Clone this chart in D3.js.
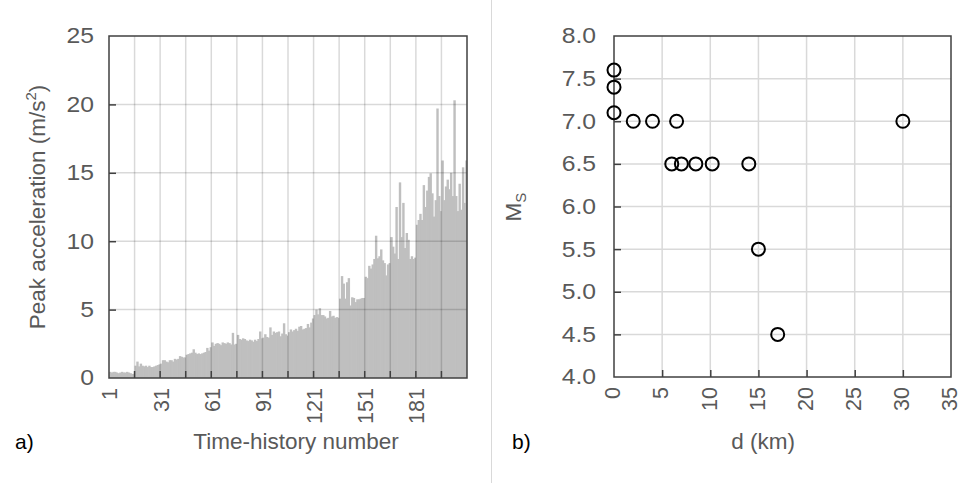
<!DOCTYPE html>
<html><head><meta charset="utf-8">
<script src="https://cdn.jsdelivr.net/npm/d3@7"></script>
<style>
html,body{margin:0;padding:0;background:#fff;}
svg{display:block;font-family:"Liberation Sans",Arial,sans-serif;}
.tick text{fill:#595959;font-size:21.5px;}
</style></head>
<body><svg id="chart" width="962" height="483"></svg>
<script>
// ---- Data (panel a): peak acceleration per time-history (m/s^2) ----
const peakAcc = [
0.45,0.4,0.45,0.45,0.4,0.35,0.4,0.45,0.4,0.4,0.45,0.4,0.35,0.3,0.3,
0.9,1.2,0.85,1.05,0.9,0.85,0.9,0.8,0.9,0.8,0.8,0.85,0.9,0.95,1.0,
1.05,1.3,1.3,1.2,1.15,1.3,1.3,1.2,1.4,1.35,1.4,1.6,1.55,1.5,1.5,
1.7,1.75,1.8,1.85,2.1,1.85,1.75,1.8,1.75,1.8,1.85,1.9,2.2,2.0,2.25,
2.6,2.35,2.5,2.55,2.5,2.4,2.6,2.55,2.5,2.6,2.55,2.45,3.3,2.45,2.5,
3.15,2.85,2.8,2.9,2.85,2.75,2.7,2.8,2.75,2.65,2.8,2.7,2.85,3.4,2.9,
2.95,3.2,3.0,2.95,3.7,3.15,3.4,3.3,3.35,3.4,3.05,3.25,4.0,3.2,3.1,
3.35,3.55,3.4,3.5,3.6,3.45,3.75,3.8,3.55,3.6,3.65,3.95,3.7,4.05,4.35,
4.6,5.0,4.65,5.1,4.6,4.6,4.5,4.35,4.4,4.9,4.5,4.55,4.4,4.45,4.4,
5.8,7.45,6.9,5.8,7.0,7.3,5.3,5.9,5.85,5.55,5.75,5.75,5.8,5.85,5.85,
7.4,7.3,8.2,8.0,8.3,8.7,10.4,8.75,8.9,9.4,8.6,8.4,7.5,8.3,8.4,
10.3,9.6,9.1,12.5,8.7,14.3,10.3,12.8,9.5,10.6,10.1,8.7,8.9,8.7,8.8,
11.2,11.55,12.0,11.55,14.1,12.5,13.7,14.7,14.96,13.5,11.8,13.0,19.7,13.3,12.2,
15.9,13.0,14.0,14.5,13.8,15.0,13.3,20.3,13.3,12.2,14.2,12.3,15.4,12.8,15.9
];
const historyIds = peakAcc.map((_, i) => i + 1);
const historyLabels = [1, 31, 61, 91, 121, 151, 181];
const accTicks = [0, 5, 10, 15, 20, 25];

// ---- Data (panel b): magnitude vs distance ----
const distKm = [0, 0, 0, 2, 4, 6.5, 30, 6, 7, 8.5, 10.2, 14, 15, 17];
const magMs  = [7.6, 7.4, 7.1, 7.0, 7.0, 7.0, 7.0, 6.5, 6.5, 6.5, 6.5, 6.5, 5.5, 4.5];
const distTicks = [0, 5, 10, 15, 20, 25, 30, 35];
const magTicks = [4.0, 4.5, 5.0, 5.5, 6.0, 6.5, 7.0, 7.5, 8.0];

const svg = d3.select("#chart");
const axisCol = "#404040", textCol = "#595959";
const stretch = 1.15;

// separator
svg.append("line").attr("x1", 491.5).attr("x2", 491.5).attr("y1", 0).attr("y2", 483)
  .attr("stroke", "#d9d9d9").attr("stroke-width", 1);

function styleLeftAxis(g, pad) {
  g.select(".domain").remove();
  g.selectAll(".tick line").attr("stroke", axisCol).attr("stroke-width", 1.5);
  g.selectAll(".tick text").attr("x", 0).attr("transform", `translate(${-pad},0) scale(${stretch},1)`);
}
function styleRotatedLabels(g, dy) {
  g.selectAll(".tick text").attr("transform", "rotate(-90)").attr("text-anchor", "end")
    .attr("x", -10).attr("y", 0).attr("dy", dy);
}

// ================= Panel a =================
const A = {x0: 109, x1: 467, y0: 36, y1: 378};
const xa = d3.scaleBand().domain(historyIds).range([A.x0, A.x1]).padding(0);
const ya = d3.scaleLinear().domain([0, 25]).range([A.y1, A.y0]);
const ga = svg.append("g");

// bars (slight overlap to avoid anti-aliasing seams)
ga.append("g").selectAll("rect").data(peakAcc).join("rect")
  .attr("x", (d, i) => xa(historyIds[i]))
  .attr("width", (d, i) => i === peakAcc.length - 1 ? xa.bandwidth() : xa.bandwidth() + 0.7)
  .attr("y", d => ya(d))
  .attr("height", d => ya(0) - ya(d))
  .attr("fill", "#bfbfbf");

// gridlines (over bars, translucent)
const gridA = ga.append("g").attr("stroke", "rgba(0,0,0,0.15)").attr("stroke-width", 1.5);
gridA.selectAll("line.h").data(accTicks.slice(1, -1)).join("line")
  .attr("x1", A.x0).attr("x2", A.x1).attr("y1", d => ya(d)).attr("y2", d => ya(d));
const boundaryIds = historyIds.filter(i => i > 1 && (i - 1) % 15 === 0);
gridA.selectAll("line.v").data(boundaryIds).join("line")
  .attr("x1", d => xa(d)).attr("x2", d => xa(d)).attr("y1", A.y0).attr("y2", A.y1);

// inside tick marks bottom
ga.append("g").selectAll("line").data(boundaryIds).join("line")
  .attr("x1", d => xa(d)).attr("x2", d => xa(d)).attr("y1", A.y1).attr("y2", A.y1 - 7)
  .attr("stroke", axisCol).attr("stroke-width", 1.5);

// y axis
const gya = ga.append("g").attr("transform", `translate(${A.x0},0)`)
  .call(d3.axisLeft(ya).tickValues(accTicks).tickFormat(d3.format("d")).tickSizeInner(-7).tickSizeOuter(0));
styleLeftAxis(gya, 15);
gya.selectAll(".tick").filter(d => d === 0 || d === 25).select("line").remove();

// x axis labels
const gxa = ga.append("g").attr("transform", `translate(0,${A.y1})`)
  .call(d3.axisBottom(xa).tickValues(historyLabels).tickSize(0));
gxa.select(".domain").remove();
styleRotatedLabels(gxa, "0.35em");

// frame
ga.append("rect").attr("x", A.x0).attr("y", A.y0).attr("width", A.x1 - A.x0).attr("height", A.y1 - A.y0)
  .attr("fill", "none").attr("stroke", axisCol).attr("stroke-width", 1.5);

// titles
const ylabA = svg.append("text").attr("transform", "translate(45,207) rotate(-90)")
  .attr("text-anchor", "middle").attr("fill", textCol).style("font-size", "22.5px");
ylabA.append("tspan").text("Peak acceleration (m/s");
ylabA.append("tspan").attr("dy", -9).style("font-size", "15px").text("2");
ylabA.append("tspan").attr("dy", 9).text(")");
svg.append("text").attr("x", 296).attr("y", 449).attr("text-anchor", "middle")
  .attr("fill", textCol).style("font-size", "22.5px").text("Time-history number");
svg.append("text").attr("x", 15).attr("y", 449).attr("fill", "#000").style("font-size", "21px").text("a)");

// ================= Panel b =================
const B = {x0: 614, x1: 951, y0: 36, y1: 377};
const xb = d3.scaleLinear().domain([0, 35]).range([B.x0, B.x1]);
const yb = d3.scaleLinear().domain([4, 8]).range([B.y1, B.y0]);
const gb = svg.append("g");

const gridB = gb.append("g").attr("stroke", "#d9d9d9").attr("stroke-width", 1.5);
gridB.selectAll("line.h").data(magTicks.slice(1, -1)).join("line")
  .attr("x1", B.x0).attr("x2", B.x1).attr("y1", d => yb(d)).attr("y2", d => yb(d));
gridB.selectAll("line.v").data(distTicks.slice(1, -1)).join("line")
  .attr("x1", d => xb(d)).attr("x2", d => xb(d)).attr("y1", B.y0).attr("y2", B.y1);

const gyb = gb.append("g").attr("transform", `translate(${B.x0},0)`)
  .call(d3.axisLeft(yb).tickValues(magTicks).tickFormat(d3.format(".1f")).tickSizeInner(-7).tickSizeOuter(0));
styleLeftAxis(gyb, 18);
gyb.selectAll(".tick").filter(d => d === 4 || d === 8).select("line").remove();

const gxb = gb.append("g").attr("transform", `translate(0,${B.y1})`)
  .call(d3.axisBottom(xb).tickValues(distTicks).tickSizeInner(-7).tickSizeOuter(0));
gxb.select(".domain").remove();
gxb.selectAll(".tick line").attr("stroke", axisCol).attr("stroke-width", 1.5);
gxb.selectAll(".tick").filter(d => d === 0 || d === 35).select("line").remove();
styleRotatedLabels(gxb, "0.27em");

gb.append("rect").attr("x", B.x0).attr("y", B.y0).attr("width", B.x1 - B.x0).attr("height", B.y1 - B.y0)
  .attr("fill", "none").attr("stroke", axisCol).attr("stroke-width", 1.5);

gb.append("g").selectAll("circle").data(distKm).join("circle")
  .attr("cx", d => xb(d)).attr("cy", (d, i) => yb(magMs[i])).attr("r", 6.5)
  .attr("fill", "none").attr("stroke", "#000").attr("stroke-width", 2);

const ylabB = svg.append("text").attr("transform", "translate(521,207) rotate(-90)")
  .attr("text-anchor", "middle").attr("fill", textCol).style("font-size", "22.5px");
ylabB.append("tspan").text("M");
ylabB.append("tspan").attr("dy", 5).style("font-size", "15px").text("S");
svg.append("text").attr("x", 763).attr("y", 449).attr("text-anchor", "middle")
  .attr("fill", textCol).style("font-size", "22.5px").text("d (km)");
svg.append("text").attr("x", 512).attr("y", 449).attr("fill", "#000").style("font-size", "21px").text("b)");
</script></body></html>
